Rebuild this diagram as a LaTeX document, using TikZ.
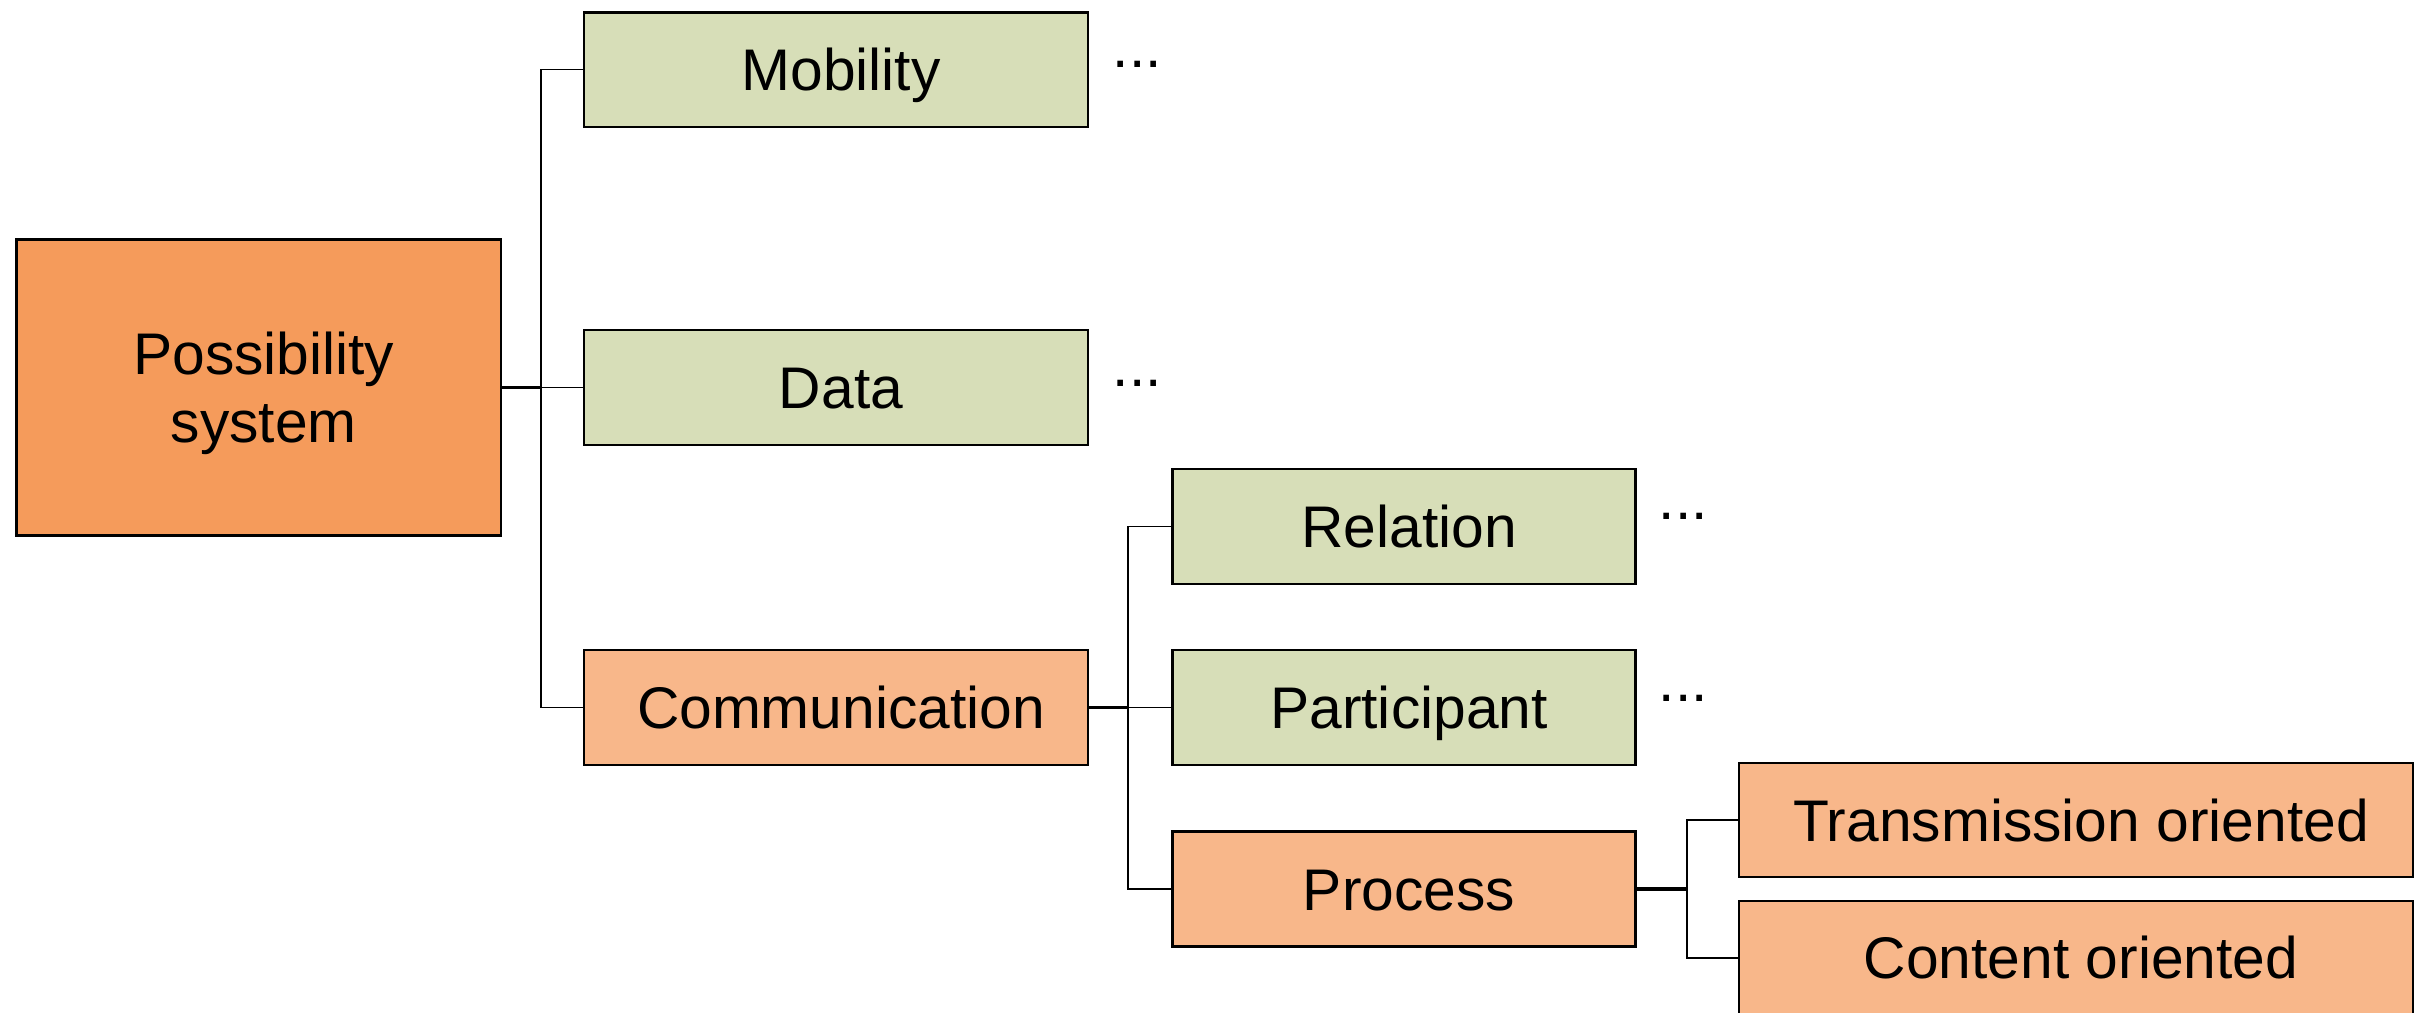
\documentclass[tikz,border=0pt]{standalone}
\usepackage{fontspec}
\setmainfont{Liberation Sans}
\definecolor{rootorange}{HTML}{F59B5B}
\definecolor{branchorange}{HTML}{F8B78A}
\definecolor{leafgreen}{HTML}{D7DEB8}
\begin{document}
\begin{tikzpicture}[x=0.01cm, y=-0.01cm,
  labelfont/.style={font=\fontsize{16.7}{19.6}\selectfont},
  box/.style={draw=black, line width=0.7pt, inner sep=0pt, labelfont,
    text height=11.96pt, text depth=0pt,
    execute at begin node={\hspace*{0.1cm}}},
  leaf/.style={box, fill=leafgreen},
  branch/.style={box, fill=branchorange},
  rootbox/.style={draw=black, line width=0.7pt, inner sep=0pt, labelfont,
    fill=rootorange, align=center, text height=31.56pt, text depth=0pt},
  narrow/.style={minimum width=5.04cm, minimum height=1.145cm},
  mid/.style={minimum width=4.63cm, minimum height=1.15cm},
  wide/.style={minimum width=6.74cm, minimum height=1.14cm},
  more/.style={labelfont, inner sep=0pt, anchor=base west},
  link/.style={line width=0.45pt, black},
  stub/.style={line width=1.1pt, black},
]
\useasboundingbox (0,0) rectangle (2430,1013);
\begin{scope}
\clip (0,0) rectangle (2430,1013);

% root
\node (poss) [rootbox, minimum width=4.845cm, minimum height=2.96cm]
  at (258.8,387.5) {\hspace*{0.1cm}Possibility\\\hspace*{0.1cm}system};

% first level
\node (mob)  [leaf, narrow]   at (836,69.7)  {Mobility};
\node (data) [leaf, narrow]   at (836,387.5) {Data};
\node (comm) [branch, narrow] at (836,707.5) {Communication};

% second level
\node (rel)  [leaf, mid]   at (1404,526.5) {Relation};
\node (part) [leaf, mid]   at (1404,707.5) {Participant};
\node (proc) [branch, mid] at (1404,889)   {Process};

% third level
\node (trans) [branch, wide] at (2076,820) {Transmission oriented};
\node (cont)  [branch, wide, minimum height=1.135cm] at (2076,957.75) {Content oriented};

% continuation marks
\node (mobmore)  [more] at (1112,68)  {...};
\node (datamore) [more] at (1112,387) {...};
\node (relmore)  [more] at (1658,520) {...};
\node (partmore) [more] at (1658,702) {...};

% tree connectors
\coordinate (j1) at (541,387.5);
\coordinate (j2) at (1128,707.5);
\coordinate (j3) at (1687,889);

\draw[stub] (poss.east) -- (j1);
\draw[link] (j1) |- (mob.west);
\draw[link] (j1) -- (data.west);
\draw[link] (j1) |- (comm.west);

\draw[stub] (comm.east) -- (j2);
\draw[link] (j2) |- (rel.west);
\draw[link] (j2) -- (part.west);
\draw[link] (j2) |- (proc.west);

\draw[stub] (proc.east) -- (j3);
\draw[link] (j3) |- (trans.west);
\draw[link] (j3) |- (cont.west);
\end{scope}
\end{tikzpicture}
\end{document}
